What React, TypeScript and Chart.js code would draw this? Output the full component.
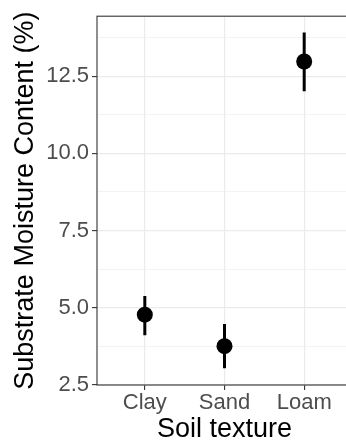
import React, { useEffect, useRef } from "react";
import { Chart, registerables } from "chart.js";

Chart.register(...registerables);

const categories = ["Clay", "Sand", "Loam"];
const means = [4.77, 3.75, 12.98];
const lower = [4.1, 3.03, 12.02];
const upper = [5.38, 4.47, 13.92];
const yMajorTicks = [2.5, 5.0, 7.5, 10.0, 12.5];
const yMinorTicks = [3.75, 6.25, 8.75, 11.25, 13.75];
const xTitle = "Soil texture";
const yTitle = "Substrate Moisture Content (%)";

const FONT = "'Liberation Sans', Arial, sans-serif";

const errorBars = {
  id: "errorBars",
  beforeDatasetsDraw(chart: any) {
    const { ctx, chartArea, scales } = chart;
    const xs = scales.x;
    const ys = scales.y;
    ctx.save();
    ctx.beginPath();
    ctx.rect(chartArea.left, chartArea.top, chartArea.right - chartArea.left, chartArea.bottom - chartArea.top);
    ctx.clip();
    ctx.strokeStyle = "#000000";
    ctx.lineWidth = 3;
    ctx.lineCap = "butt";
    categories.forEach((_, i) => {
      const x = xs.getPixelForValue(i + 1);
      ctx.beginPath();
      ctx.moveTo(x, ys.getPixelForValue(lower[i]));
      ctx.lineTo(x, ys.getPixelForValue(upper[i]));
      ctx.stroke();
    });
    ctx.restore();
  },
};

const panelBorder = {
  id: "panelBorder",
  afterDraw(chart: any) {
    const { ctx, chartArea } = chart;
    ctx.save();
    ctx.strokeStyle = "#333333";
    ctx.lineWidth = 1.1;
    ctx.strokeRect(chartArea.left, chartArea.top, chartArea.right - chartArea.left, chartArea.bottom - chartArea.top);
    ctx.restore();
  },
};

export default function App() {
  const ref = useRef<HTMLCanvasElement | null>(null);
  useEffect(() => {
    if (!ref.current) return;
    const chart = new Chart(ref.current, {
      type: "scatter",
      data: {
        datasets: [
          {
            data: means.map((m, i) => ({ x: i + 1, y: m })),
            backgroundColor: "#000000",
            borderWidth: 0,
            pointRadius: 8,
            pointHoverRadius: 8,
          },
        ],
      },
      options: {
        animation: false,
        responsive: false,
        devicePixelRatio: 1,
        events: [],
        layout: { padding: { left: 0, top: 12, right: 7, bottom: 0 } },
        plugins: { legend: { display: false }, tooltip: { enabled: false } },
        scales: {
          x: {
            type: "linear",
            min: 0.4,
            max: 3.6,
            afterBuildTicks: (s: any) => {
              s.ticks = categories.map((_, i) => ({ value: i + 1 }));
            },
            afterFit: (s: any) => {
              s.height = 59;
            },
            border: { display: false },
            grid: {
              color: "#EBEBEB",
              lineWidth: 1.2,
              tickColor: "#333333",
              tickWidth: 1.1,
              tickLength: 5,
            },
            ticks: {
              padding: 0,
              color: "#4D4D4D",
              font: { family: FONT, size: 22 },
              maxRotation: 0,
              callback: (v: any) => categories[Math.round(v) - 1] ?? "",
            },
            title: {
              display: true,
              text: xTitle,
              color: "#000000",
              font: { family: FONT, size: 27, lineHeight: 1 },
              padding: { top: 0, bottom: 0.5 },
            },
          },
          y: {
            type: "linear",
            min: 2.49,
            max: 14.45,
            afterBuildTicks: (s: any) => {
              s.ticks = [...yMajorTicks, ...yMinorTicks].sort((a, b) => a - b).map((v) => ({ value: v }));
            },
            afterFit: (s: any) => {
              s.width = 97;
            },
            border: { display: false },
            grid: {
              color: "#EBEBEB",
              lineWidth: (c: any) => (c.tick && yMajorTicks.includes(c.tick.value) ? 1.2 : 0.6),
              tickColor: (c: any) => (c.tick && yMajorTicks.includes(c.tick.value) ? "#333333" : "rgba(0,0,0,0)"),
              tickWidth: 1.1,
              tickLength: 5,
            },
            ticks: {
              padding: 3,
              color: "#4D4D4D",
              font: { family: FONT, size: 22 },
              callback: (v: any) => (yMajorTicks.includes(v) ? Number(v).toFixed(1) : ""),
            },
            title: {
              display: true,
              text: yTitle,
              color: "#000000",
              font: { family: FONT, size: 27, lineHeight: 1 },
              padding: { top: 12, bottom: 0 },
            },
          },
        },
      },
      plugins: [errorBars, panelBorder],
    } as any);
    return () => chart.destroy();
  }, []);
  return (
    <div style={{ position: "fixed", left: 0, top: 0, width: 346, height: 444, overflow: "hidden", background: "#ffffff" }}>
      <canvas ref={ref} width={360} height={444} style={{ width: 360, height: 444, display: "block" }} />
    </div>
  );
}
